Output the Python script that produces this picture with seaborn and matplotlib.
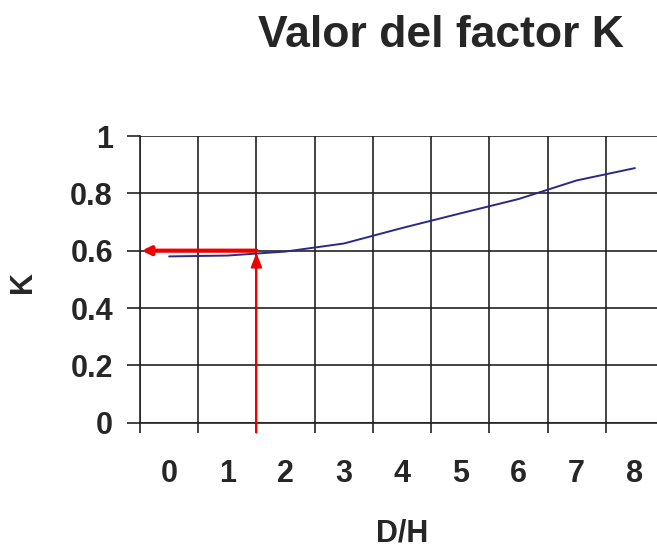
import matplotlib
matplotlib.use("Agg")
import matplotlib.pyplot as plt
import seaborn as sns
import numpy as np
import pandas as pd

# data
dh = [0, 1, 2, 3, 4, 5, 6, 7, 8]
k_vals = [0.58, 0.583, 0.597, 0.625, 0.679, 0.73, 0.78, 0.845, 0.888]
x_labels = ["0", "1", "2", "3", "4", "5", "6", "7", "8"]
y_ticks = [0, 0.2, 0.4, 0.6, 0.8, 1]
y_labels = ["0", "0.2", "0.4", "0.6", "0.8", "1"]
read_x = 1.5     # D/H read on the chart
read_k = 0.6     # K

sns.set_style("white")
plt.rcParams['font.family'] = ['Liberation Sans', 'DejaVu Sans']
plt.rcParams['font.weight'] = 'bold'

df = pd.DataFrame({"D/H": dh, "K": k_vals})

fig = plt.figure(figsize=(6.57, 5.49), dpi=100)
ax = fig.add_axes([140 / 657, 1 - 422.7 / 549, 524 / 657, 286.7 / 549])

sns.lineplot(data=df, x="D/H", y="K", ax=ax, color="#2a2a86", linewidth=1.4)

ax.set_xlim(-0.5, 8.5)
ax.set_ylim(0, 1)

# gridlines on the category boundaries, labels in the middle
ax.set_xticks(np.arange(-0.5, 9, 1.0))
ax.set_xticklabels([])
ax.set_xticks(dh, minor=True)
ax.set_xticklabels(x_labels, minor=True)
ax.set_yticks(y_ticks)
ax.set_yticklabels(y_labels)

ax.tick_params(axis="x", which="major", direction="out", length=7.5, width=1.2,
               color="#222222", bottom=True)
ax.tick_params(axis="x", which="minor", length=0, pad=26, labelsize=22)
ax.tick_params(axis="y", which="major", direction="out", length=9.5, width=1.2,
               color="#222222", pad=10, labelsize=22, left=True)
for lab in ax.get_xticklabels(minor=True) + ax.get_yticklabels():
    lab.set_fontweight("bold")

ax.grid(True, which="major", color="#222222", linewidth=1.2)
for side in ["top", "right"]:
    ax.spines[side].set_visible(False)
for side in ["left", "bottom"]:
    ax.spines[side].set_color("#222222")
    ax.spines[side].set_linewidth(1.2)

# red reading arrows
ax.annotate("", xy=(read_x, 0.593), xytext=(read_x, -0.035),
            arrowprops=dict(arrowstyle="-|>,head_length=0.9,head_width=0.35",
                            color="#ee0000", lw=1.3, shrinkA=0, shrinkB=0),
            annotation_clip=False)
ax.annotate("", xy=(-0.47, read_k), xytext=(read_x, read_k),
            arrowprops=dict(arrowstyle="-|>,head_length=0.5,head_width=0.25",
                            color="#ee0000", lw=3, shrinkA=0, shrinkB=0),
            annotation_clip=False)

ax.set_xlabel("D/H", fontsize=22, fontweight="bold", va="baseline")
ax.xaxis.set_label_coords(0.5, (422.7 - 542) / 286.7)
ax.set_ylabel("K", fontsize=22, fontweight="bold")
ax.yaxis.set_label_coords((38 - 140) / 524, 0.49)

fig.text(441 / 657, 1 - 47 / 549, "Valor del factor K", fontsize=32,
         fontweight="bold", ha="center", va="baseline")

fig.savefig("out.png", dpi=100)
